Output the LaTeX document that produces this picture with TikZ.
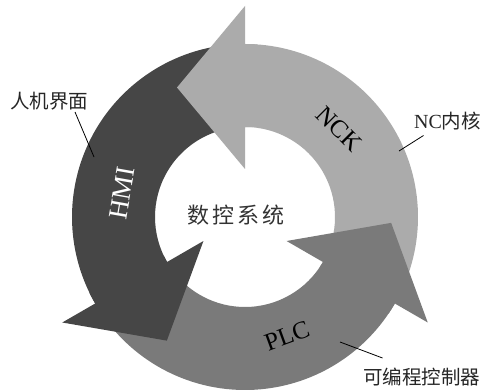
\documentclass[tikz,border=0pt]{standalone}
\usepackage{fontspec}
\setmainfont{Liberation Serif}
\newfontfamily\cjk{Noto Sans CJK SC}
\definecolor{hmicol}{RGB}{70,70,70}
\definecolor{nckcol}{RGB}{171,171,171}
\definecolor{plccol}{RGB}{122,122,122}
\newcommand{\ringbody}[3]{%
  \fill[#3] (#1:173) arc[start angle=#1, end angle=#2, radius=173] -- (#2:90)
    arc[start angle=#2, end angle=#1, radius=90] -- cycle;}
\newcommand{\ringhead}[2]{%
  \fill[#2] ({#1-4}:173) arc[start angle=#1-4, end angle=#1, radius=173] -- (#1:211)
    -- ({#1+27.7}:146.27) -- (#1:48) -- (#1:90)
    arc[start angle=#1, end angle=#1-4, radius=90] -- cycle;}
\tikzset{
  ringtxt/.style={font=\fontsize{25}{28}\selectfont, inner sep=0pt},
  lbl/.style={font=\fontsize{19.5}{22}\selectfont\cjk, text=black!85, inner sep=0pt},
  leader/.style={draw=black, line width=0.8pt}
}
\begin{document}
\begin{tikzpicture}[x=1pt,y=1pt]
\fill[white] (0,0) rectangle (486,391);
\useasboundingbox (0,0) rectangle (486,391);
\begin{scope}[shift={(245,174)}]
  \ringbody{-25}{90}{nckcol}
  \ringbody{95}{210}{hmicol}
  \ringbody{215}{330}{plccol}
  \ringhead{90}{nckcol}
  \ringhead{210}{hmicol}
  \ringhead{330}{plccol}
\end{scope}
\node[ringtxt, text=white, rotate=80, font=\fontsize{27}{30}\selectfont] (hmi) at (122,198) {HMI};
\node[ringtxt, rotate=-45] (nck) at (339,262) {NCK};
\node[ringtxt, rotate=20] (plc) at (287,55) {PLC};
\node[font=\fontsize{22}{26}\selectfont\cjk, text=black!80, inner sep=0pt] (sys) at (236,176)
  {数\hspace{3pt}控\hspace{3pt}系\hspace{3pt}统};
\node[lbl] (lblA) at (49,290) {人机界面};
\node[lbl] (lblB) at (447.5,269.5) {{\rmfamily\fontsize{20}{22}\selectfont NC}内核};
\node[lbl] (lblC) at (421.5,14) {可编程控制器};
\coordinate (ptA) at (94,234);
\coordinate (ptB) at (399,240);
\coordinate (ptC) at (340,49);
\draw[leader] ([shift={(26,-11)}]lblA.center) -- (ptA);
\draw[leader] ([shift={(-24,-14)}]lblB.center) -- (ptB);
\draw[leader] ([shift={(-39,19)}]lblC.center) -- (ptC);
\end{tikzpicture}
\end{document}
